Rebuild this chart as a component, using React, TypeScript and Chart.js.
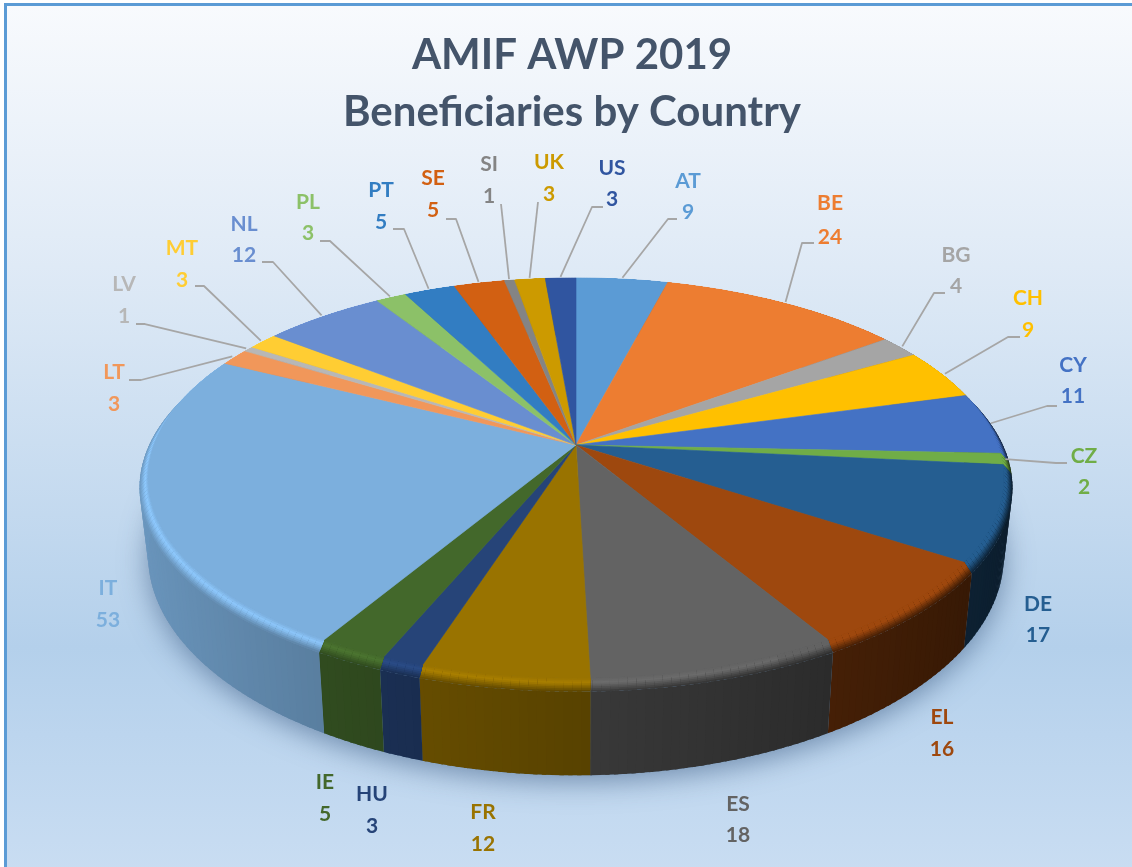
import React, { useEffect, useRef } from "react";
import { Chart, registerables } from "chart.js";

Chart.register(...registerables);

const COUNTRIES = ["AT","BE","BG","CH","CY","CZ","DE","EL","ES","FR","HU","IE","IT","LT","LV","MT","NL","PL","PT","SE","SI","UK","US"];
const BENEFICIARIES = [9,24,4,9,11,2,17,16,18,12,3,5,53,3,1,3,12,3,5,5,1,3,3];
const SLICE_COLORS = ["#5B9BD5","#ED7D31","#A5A5A5","#FFC000","#4472C4","#70AD47","#255E91","#9E480E","#636363","#997300","#264478","#43682B","#7CAFDD","#F1975A","#B7B7B7","#FFCD33","#698ED0","#8CC168","#327DC2","#D26012","#848484","#CC9A00","#3055A0"];
const TITLE_LINES = ["AMIF AWP 2019", "Beneficiaries by Country"];

// Label layout: centre x, y of the country line, y of the value line
const LABEL_SPOTS: Record<string, number[]> = {
  AT:[688,181,212], BE:[830,203,237], BG:[956,255,286], CH:[1028,298,330], CY:[1073,365,396], CZ:[1084,456,487],
  DE:[1038,604,635], EL:[942,717,749], ES:[738,804,835], FR:[483,812,844], HU:[372,794,826], IE:[325,782,814],
  IT:[108,588,620], LT:[114,372,404], LV:[124,284,316], MT:[182,248,280], NL:[244,224,255], PL:[308,202,233],
  PT:[381,190,222], SE:[433,178,210], SI:[489,164,196], UK:[549,162,194], US:[612,168,199],
};
// Leader line bends (the start is derived from the slice's mid angle)
const LEADER_BENDS: Record<string, number[][]> = {
  AT:[[668,219],[677,219]], BE:[[802,243],[814,243]], BG:[[934,293],[945,293]], CH:[[1008,337],[1020,337]],
  CY:[[1047,406],[1057,406]], CZ:[[1056,463],[1067,463]], LT:[[141,380],[129,380]], LV:[[145,324],[136,324]],
  MT:[[204,286],[195,286]], NL:[[273,262],[262,262]], PL:[[330,241],[320,241]], PT:[[404,229],[393,229]],
  SE:[[456,219],[446,219]], SI:[[501,204]], UK:[[538,202]], US:[[592,207],[603,207]],
};

const VIEW = { cx: 576, cy: 445, R: 422, Rb: 194.6, k: 0.165 };
const RIM = { s: 1.02, drop: 9 };
const BASE = { s: 1.0, a: 1.1, drop: 74 };
const FONT = "Lato, 'Noto Sans', sans-serif";

const project = (th: number, sx: number, sy: number, drop: number) => {
  const x = Math.sin(th);
  const y = -Math.cos(th);
  const w = 1 - VIEW.k * y;
  return [VIEW.cx + (VIEW.R * sx * x) / w, VIEW.cy + drop + (VIEW.Rb * sy * y) / w];
};
const discPt = (th: number) => project(th, 1, 1, 0);
const rimPt = (th: number) => project(th, RIM.s, RIM.s, RIM.drop);
const basePt = (th: number) => project(th, BASE.s, BASE.a, BASE.drop);

const rgb = (hex: string) => [1, 3, 5].map((i) => parseInt(hex.slice(i, i + 2), 16));
const css = (c: number[]) => `rgb(${c.map((v) => Math.max(0, Math.min(255, Math.round(v)))).join(",")})`;
const times = (c: number[], f: number) => c.map((v) => v * f);
const lerp = (a: number[], b: number[], t: number) => a.map((v, i) => v + (b[i] - v) * t);
const wallFactor = (th: number) => 0.58 - 0.28 * Math.sin(th);

const quad = (ctx: CanvasRenderingContext2D, a: number[], b: number[], c: number[], d: number[], color: string) => {
  ctx.fillStyle = color;
  ctx.beginPath();
  ctx.moveTo(a[0], a[1]);
  ctx.lineTo(b[0], b[1]);
  ctx.lineTo(c[0], c[1]);
  ctx.lineTo(d[0], d[1]);
  ctx.closePath();
  ctx.fill();
};

const tiltedPie = {
  id: "tiltedPie",
  beforeDatasetsDraw(chart: any) {
    const ctx: CanvasRenderingContext2D = chart.ctx;
    const arcs = chart.getDatasetMeta(0).data.map((el: any, i: number) => ({
      start: el.startAngle + Math.PI / 2,
      end: el.endAngle + Math.PI / 2,
      color: rgb(SLICE_COLORS[i]),
      name: COUNTRIES[i],
      value: BENEFICIARIES[i],
      hex: SLICE_COLORS[i],
    }));
    const STEP = Math.PI / 180;

    // soft ground shadow
    ctx.save();
    ctx.shadowColor = "rgba(50,80,120,0.55)";
    ctx.shadowBlur = 28;
    ctx.shadowOffsetY = 6;
    ctx.fillStyle = "#6f8fb0";
    ctx.beginPath();
    for (let t = Math.PI / 2 - 0.2; t <= (3 * Math.PI) / 2 + 0.2; t += STEP) {
      const p = basePt(t);
      ctx.lineTo(p[0], p[1]);
    }
    ctx.closePath();
    ctx.fill();
    ctx.restore();

    // walls: each piece overlaps the next one so no seams show
    for (const a of arcs) {
      for (let t = a.start; t < a.end - 1e-6; t += STEP) {
        const u = Math.min(a.end, t + STEP);
        const over = Math.min(a.end, u + STEP / 2);
        const col = css(times(a.color, wallFactor((t + u) / 2)));
        quad(ctx, rimPt(t), rimPt(over), basePt(over), basePt(t), col);
      }
    }
    // bevel
    const BANDS = 8;
    for (const a of arcs) {
      for (let t = a.start; t < a.end - 1e-6; t += STEP) {
        const u = Math.min(a.end, t + STEP);
        const over = Math.min(a.end, u + STEP / 2);
        const m = (t + u) / 2;
        const side = times(a.color, wallFactor(m));
        const gain = Math.max(0, 0.1 - 0.06 * Math.sin(m) - (Math.sin(m) > 0.4 ? 0.1 : 0));
        for (let b = BANDS - 1; b >= 0; b--) {
          const f1 = (b + 1) / BANDS;
          const fm = (b + 0.5) / BANDS;
          const col = fm < 0.35
            ? times(a.color, 1 + (gain * fm) / 0.35)
            : lerp(times(a.color, 1 + gain), side, (fm - 0.35) / 0.65);
          const mixPt = (th: number, f: number) => {
            const d = discPt(th);
            const r = rimPt(th);
            return [d[0] + (r[0] - d[0]) * f, d[1] + (r[1] - d[1]) * f];
          };
          quad(ctx, mixPt(t, 0), mixPt(over, 0), mixPt(over, f1), mixPt(t, f1), css(col));
        }
      }
    }

    // top face
    for (const a of arcs) {
      ctx.beginPath();
      ctx.moveTo(VIEW.cx, VIEW.cy);
      for (let t = a.start; t < a.end; t += STEP / 2) {
        const p = discPt(t);
        ctx.lineTo(p[0], p[1]);
      }
      const e = discPt(a.end);
      ctx.lineTo(e[0], e[1]);
      ctx.closePath();
      ctx.fillStyle = a.hex;
      ctx.strokeStyle = a.hex;
      ctx.lineWidth = 0.6;
      ctx.fill();
      ctx.stroke();
    }

    // leaders and labels
    ctx.lineJoin = "round";
    for (const a of arcs) {
      const bends = LEADER_BENDS[a.name];
      if (bends) {
        const s = project((a.start + a.end) / 2, 1.008, 1.008, 0);
        ctx.strokeStyle = "#A6A6A6";
        ctx.lineWidth = 1.8;
        ctx.beginPath();
        ctx.moveTo(s[0], s[1]);
        for (const b of bends) ctx.lineTo(b[0], b[1]);
        ctx.stroke();
      }
      const [x, y1, y2] = LABEL_SPOTS[a.name];
      ctx.fillStyle = a.hex;
      ctx.font = `bold 21px ${FONT}`;
      ctx.textAlign = "center";
      ctx.textBaseline = "middle";
      ctx.fillText(a.name, x, y1);
      ctx.fillText(String(a.value), x, y2);
    }
    return false;
  },
};

export default function App() {
  const ref = useRef<HTMLCanvasElement | null>(null);
  useEffect(() => {
    const chart = new Chart(ref.current as HTMLCanvasElement, {
      type: "pie",
      data: {
        labels: COUNTRIES,
        datasets: [{ data: BENEFICIARIES, backgroundColor: SLICE_COLORS, borderWidth: 0 }],
      },
      options: {
        animation: false,
        responsive: false,
        layout: { padding: { left: 12 } },
        plugins: {
          legend: { display: false },
          tooltip: { enabled: false },
          title: {
            display: true,
            text: TITLE_LINES,
            color: "#44546A",
            font: { family: FONT, size: 42, weight: "bold", lineHeight: 1.36 },
            padding: { top: 27, bottom: 0 },
          },
        },
      },
      plugins: [tiltedPie],
    } as any);
    return () => chart.destroy();
  }, []);
  return (
    <div style={{ position: "fixed", left: 0, top: 0, width: 1132, height: 867, background: "#fff", overflow: "hidden" }}>
      <div
        style={{
          position: "absolute",
          left: 4,
          top: 3,
          width: 1128,
          height: 870,
          boxSizing: "border-box",
          borderLeft: "3px solid #5B9BD5",
          borderTop: "3px solid #5B9BD5",
          background: "linear-gradient(180deg,#f8fafd 0%,#dfeaf6 30%,#b4d0eb 74%,#bcd5ee 84%,#c9ddf2 100%)",
        }}
      />
      <canvas ref={ref} width={1132} height={867} style={{ position: "absolute", left: 0, top: 0, display: "block", filter: "blur(0.5px)" }} />
    </div>
  );
}
